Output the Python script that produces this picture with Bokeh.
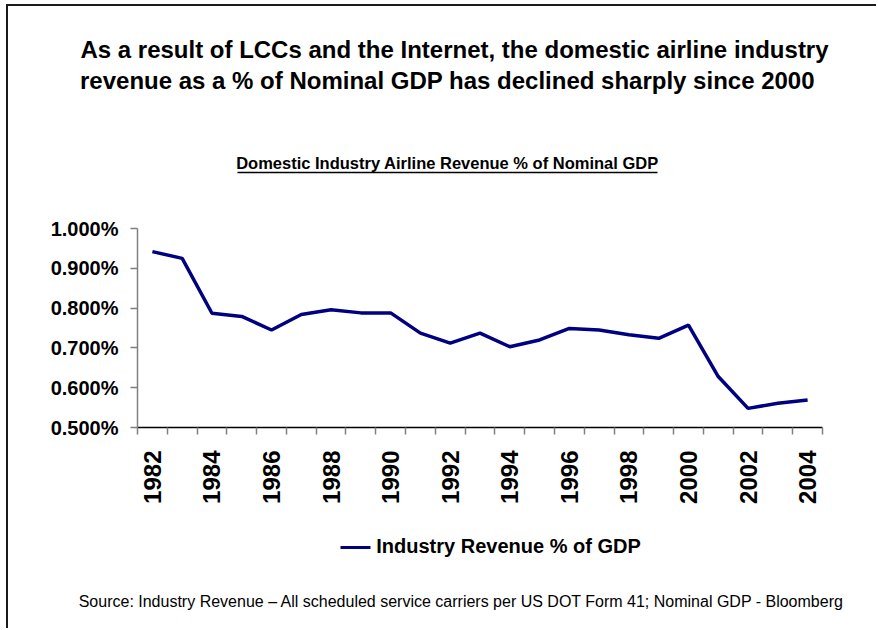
import numpy as np
from bokeh.plotting import figure
from bokeh.models import (Range1d, FixedTicker, PrintfTickFormatter, LinearAxis)
from bokeh.embed import file_html
from bokeh.resources import INLINE

# ---- data ----
years = list(range(1982, 2005))
revenue_pct = [0.942, 0.925, 0.787, 0.779, 0.745, 0.784, 0.796, 0.788, 0.788,
               0.737, 0.712, 0.737, 0.703, 0.720, 0.749, 0.745, 0.733, 0.724,
               0.757, 0.628, 0.548, 0.561, 0.569]
y_ticks = [0.5, 0.6, 0.7, 0.8, 0.9, 1.0]
x_label_years = list(range(1982, 2005, 2))

title_lines = ["As a result of LCCs and the Internet, the domestic airline industry",
               "revenue as a % of Nominal GDP has declined sharply since 2000"]
subtitle = "Domestic Industry Airline Revenue % of Nominal GDP"
series_name = "Industry Revenue % of GDP"
source = ("Source: Industry Revenue \u2013 All scheduled service carriers per US DOT "
          "Form 41; Nominal GDP - Bloomberg")

NAVY = "#000080"
SANS = "Liberation Sans"

# page-pixel geometry of the plot frame
FRAME_L, FRAME_R, FRAME_T, FRAME_B = 137, 822, 228, 427
OFF_X, OFF_Y = 8, 6          # canvas offset on the page (css margin + border)
W, H = 870, 624

p = figure(width=W, height=H, output_backend="svg", toolbar_location=None,
           x_range=Range1d(years[0] - 0.5, years[-1] + 0.5),
           y_range=Range1d(y_ticks[0], y_ticks[-1]),
           min_border_left=FRAME_L - OFF_X, min_border_right=W - (FRAME_R - OFF_X),
           min_border_top=FRAME_T - OFF_Y, min_border_bottom=H - (FRAME_B - OFF_Y))
p.styles = {"margin-left": "6px", "margin-top": "4px",
            "border-left": "2px solid #1a1a1a", "border-top": "2px solid #1a1a1a"}
p.outline_line_color = None
p.xgrid.visible = False
p.ygrid.visible = False
p.background_fill_color = "white"
p.border_fill_color = "white"

# page-pixel helper range for horizontal placement of text rows
p.extra_x_ranges = {"px": Range1d(FRAME_L, FRAME_R)}

r = p.line(years, revenue_pct, line_color=NAVY, line_width=3.5)

# y axis
ya = p.yaxis[0]
ya.ticker = FixedTicker(ticks=y_ticks, minor_ticks=[])
ya.formatter = PrintfTickFormatter(format="%.3f%%")
ya.axis_line_color = "#808080"
ya.axis_line_width = 1.5
ya.major_tick_line_color = "#808080"
ya.major_tick_line_width = 1.5
ya.major_tick_out = 7
ya.major_tick_in = 0
ya.minor_tick_line_color = None
ya.major_label_text_font = SANS
ya.major_label_text_font_style = "bold"
ya.major_label_text_font_size = "20px"
ya.major_label_text_color = "black"
ya.major_label_standoff = 12

# x axis
xa = p.xaxis[0]
xa.ticker = FixedTicker(ticks=x_label_years,
                        minor_ticks=[y - 0.5 for y in years] + [years[-1] + 0.5])
xa.axis_line_color = "black"
xa.axis_line_width = 1.5
xa.major_tick_line_color = None
xa.major_tick_out = 0
xa.major_tick_in = 0
xa.minor_tick_line_color = "#808080"
xa.minor_tick_line_width = 1.5
xa.minor_tick_out = 7
xa.minor_tick_in = 0
xa.major_label_orientation = np.pi / 2
xa.major_label_text_font = SANS
xa.major_label_text_font_style = "bold"
xa.major_label_text_font_size = "24px"
xa.major_label_text_color = "black"
xa.major_label_standoff = 16


def row(side, text, cx, size="16px", style="bold", standoff=0,
        rule=None, rule_color="black", rule_width=1.5):
    """A stacked side-panel row: text (as a tick label) and optional rule."""
    ax = LinearAxis(x_range_name="px",
                    ticker=FixedTicker(ticks=[cx], minor_ticks=[]),
                    major_label_overrides={cx: text},
                    major_tick_out=0, major_tick_in=0, minor_tick_out=0, minor_tick_in=0,
                    major_tick_line_color=None, minor_tick_line_color=None,
                    major_label_standoff=standoff,
                    major_label_text_font=SANS, major_label_text_font_style=style,
                    major_label_text_font_size=size, major_label_text_color="black")
    if rule is None:
        ax.axis_line_color = None
    else:
        ax.bounds = rule
        ax.axis_line_color = rule_color
        ax.axis_line_width = rule_width
    p.add_layout(ax, side)


def spacer(side, gap):
    """Empty stacked row of a given height (an invisible white tick at the frame's right edge)."""
    ax = LinearAxis(x_range_name="px",
                    ticker=FixedTicker(ticks=[FRAME_R], minor_ticks=[]),
                    major_label_overrides={FRAME_R: ""},
                    major_label_text_font_size="0px", major_label_standoff=0,
                    major_tick_out=gap, major_tick_in=0,
                    major_tick_line_color="white", major_tick_line_width=1,
                    minor_tick_line_color=None, axis_line_color=None)
    p.add_layout(ax, side)


# above the frame (first added = nearest the frame)
spacer("above", 56)
row("above", subtitle, 447, "16.5px", standoff=1, rule=(237, 657))  # underlined subtitle
row("above", title_lines[1], 447, "24px", standoff=57)
row("above", title_lines[0], 454, "24px", standoff=1)

# below the frame (after the x axis)
spacer("below", 41)
row("below", series_name, 508, "20px", standoff=-13,
    rule=(340, 370), rule_color=NAVY, rule_width=3)               # legend
row("below", source, 461, "16px", style="normal", standoff=33)

open("out.html", "w").write(file_html(p, INLINE))
